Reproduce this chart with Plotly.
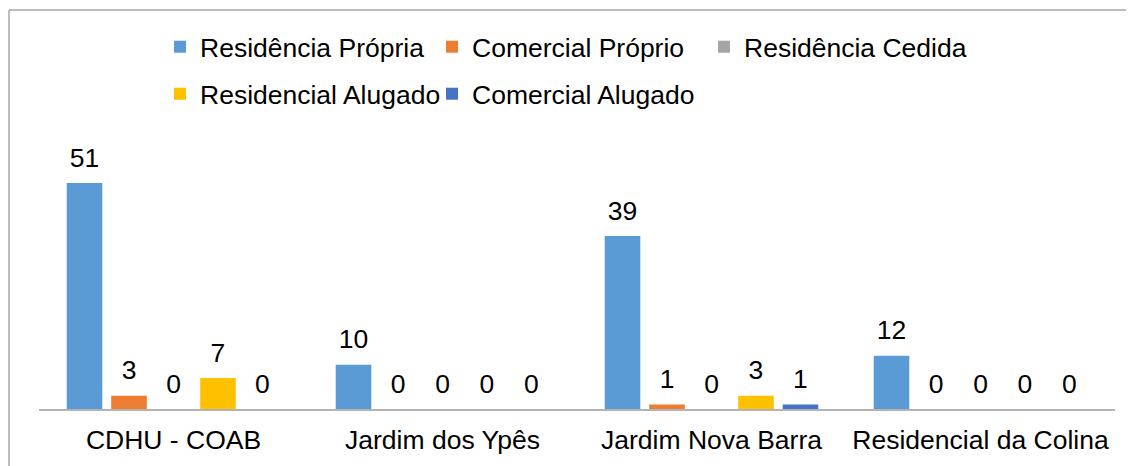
import plotly.graph_objects as go

categories = ["CDHU - COAB", "Jardim dos Ypês", "Jardim Nova Barra", "Residencial da Colina"]
series_names = ["Residência Própria", "Comercial Próprio", "Residência Cedida",
                "Residencial Alugado", "Comercial Alugado"]
residencia_propria = [51, 10, 39, 12]
comercial_proprio = [3, 0, 1, 0]
residencia_cedida = [0, 0, 0, 0]
residencial_alugado = [7, 0, 3, 0]
comercial_alugado = [0, 0, 1, 0]

series_values = [residencia_propria, comercial_proprio, residencia_cedida,
                 residencial_alugado, comercial_alugado]
colors = ["#5B9BD5", "#ED7D31", "#A5A5A5", "#FFC000", "#4472C4"]
legend_ids = ["legend", "legend", "legend", "legend2", "legend2"]

FONT = "Liberation Sans, Arial, sans-serif"
FS = 26.5
W, H = 1134, 466
OFF = 8  # page body margin offset
ML, MR, MT, MB = 39 - OFF, 19 + OFF, 143 - OFF, 57 + OFF
PW = W - ML - MR
PH = H - MT - MB

fig = go.Figure()
for name, vals, col, lg in zip(series_names, series_values, colors, legend_ids):
    fig.add_trace(go.Bar(
        name=name, x=categories, y=vals, marker=dict(color=col, line=dict(width=0)),
        offsetgroup=name, legend=lg,
    ))
for name, vals in zip(series_names, series_values):
    fig.add_trace(go.Scatter(
        x=categories, y=vals, mode="markers+text", text=[str(v) for v in vals],
        textposition="top center", offsetgroup=name, showlegend=False,
        marker=dict(size=14, opacity=0), hoverinfo="skip",
        textfont=dict(family=FONT, size=FS, color="#000000"), cliponaxis=False,
    ))

def px_x(p):
    return (p - OFF - ML) / PW

def px_y(p):
    return (H - MB - (p - OFF)) / PH

border = "#A6A6A6"
shapes = [
    dict(type="line", xref="paper", yref="paper", x0=px_x(9), x1=px_x(1150),
         y0=px_y(10), y1=px_y(10), line=dict(color=border, width=1.5)),
    dict(type="line", xref="paper", yref="paper", x0=px_x(9), x1=px_x(9),
         y0=px_y(10), y1=px_y(480), line=dict(color=border, width=1.5)),
]

leg_common = dict(orientation="h", xref="container", yref="container",
                  xanchor="left", yanchor="middle", bgcolor="rgba(0,0,0,0)",
                  font=dict(family=FONT, size=FS, color="#000000"),
                  entrywidth=227, entrywidthmode="pixels", itemclick=False,
                  traceorder="normal")

fig.update_layout(
    width=W, height=H,
    margin=dict(l=ML, r=MR, t=MT, b=MB),
    paper_bgcolor="white", plot_bgcolor="white",
    barmode="group", bargap=0.173, bargroupgap=0.2,
    scattermode="group", scattergap=0.173,
    font=dict(family=FONT, size=FS, color="#000000"),
    showlegend=True,
    legend=dict(x=(160 - OFF) / W, y=1 - (47 - OFF) / H, **leg_common),
    legend2=dict(x=(160 - OFF) / W, y=1 - (94 - OFF) / H, **leg_common),
    xaxis=dict(showline=True, linecolor="#B3B3B3", linewidth=1.5, ticks="",
               showgrid=False, tickfont=dict(family=FONT, size=FS, color="#000000"),
               ticklabelstandoff=6),
    yaxis=dict(range=[0, 60], visible=False, showgrid=False, zeroline=False),
    shapes=shapes,
)

fig.write_html("out.html")
